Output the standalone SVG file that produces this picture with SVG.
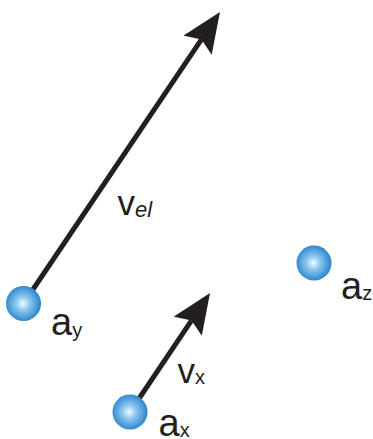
<svg xmlns="http://www.w3.org/2000/svg" width="373" height="439" viewBox="0 0 373 439">
<style>
.vec{stroke:#231f20;stroke-width:5;fill:none;marker-end:url(#head)}
.ball{fill:url(#bg)}
.t{font-family:"Liberation Sans",Arial,sans-serif;fill:#231f20}
</style>
<defs>
<radialGradient id="bg" cx="0.48" cy="0.5" r="0.55">
<stop offset="0" stop-color="#f2faff"/>
<stop offset="0.35" stop-color="#8fc8ef"/>
<stop offset="0.8" stop-color="#3f95d7"/>
<stop offset="1" stop-color="#2b78b8"/>
</radialGradient>
<marker id="head" markerUnits="userSpaceOnUse" viewBox="0 -17 40 34" markerWidth="40" markerHeight="34" refX="7" refY="0" orient="auto">
<path d="M40,0 L0,-17 L7,0 L0,17 Z" fill="#231f20"/>
</marker>
</defs>
<g id="connectors">
<line class="vec" x1="23.5" y1="303.5" x2="201.5" y2="39.4"/>
<line class="vec" x1="130" y1="412" x2="191.6" y2="320.4"/>
</g>
<g id="ay">
<circle class="ball" cx="23.5" cy="303.5" r="17.5"/>
<text class="t" x="51" y="335" font-size="38">a<tspan font-size="20" dy="2">y</tspan></text>
</g>
<g id="ax">
<circle class="ball" cx="130" cy="412" r="17.5"/>
<text class="t" x="158.5" y="436" font-size="38">a<tspan font-size="20" dy="1">x</tspan></text>
</g>
<g id="az">
<circle class="ball" cx="314" cy="263" r="17.5"/>
<text class="t" x="341" y="299" font-size="38">a<tspan font-size="20" dy="1">z</tspan></text>
</g>
<g id="vel">
<text class="t" x="117.5" y="215" font-size="35">v<tspan font-size="22" font-style="italic" dy="2">el</tspan></text>
</g>
<g id="vx">
<text class="t" x="177.5" y="383" font-size="35">v<tspan font-size="20" dy="1">x</tspan></text>
</g>
</svg>
